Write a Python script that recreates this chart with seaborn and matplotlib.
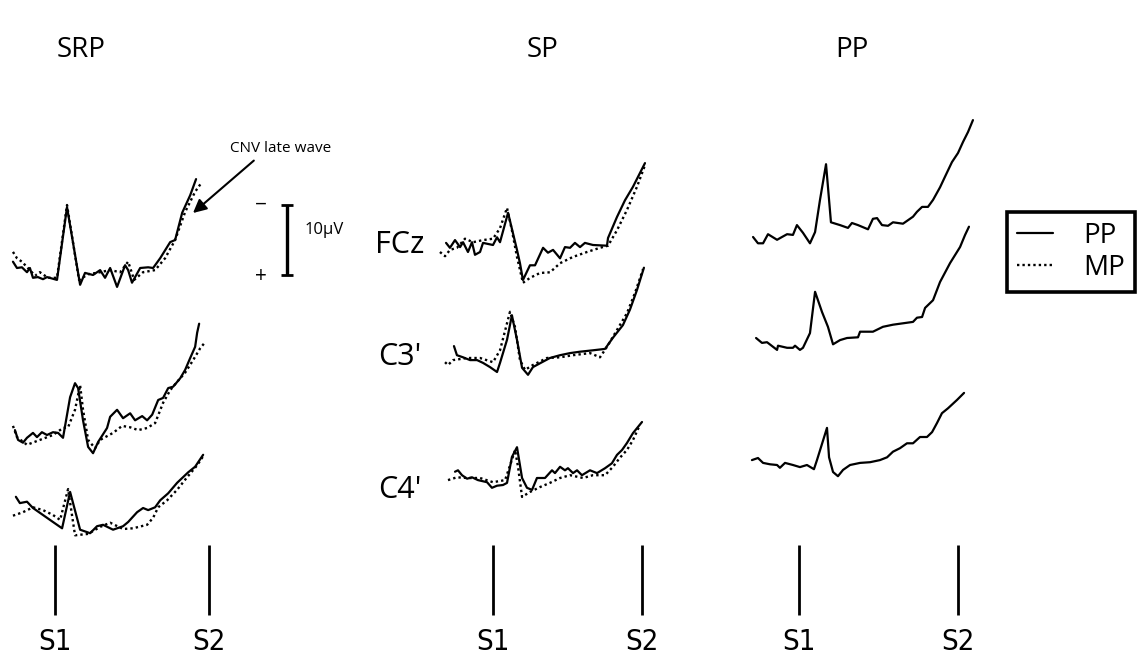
import numpy as np
import matplotlib
matplotlib.use('Agg')
import matplotlib.pyplot as plt
import seaborn as sns

# time in ms (S1 = 0, S2 = 1000), amplitude in microvolts (negative plotted up)

# --- SRP panel ---
srp_fcz_pp_t = [-273, -247, -215, -182, -163, -143, -111, -78, -52, 13, 78, 163, 195, 247, 293, 325, 358, 403,
                455, 475, 500, 553, 605, 637, 683, 748, 780, 826, 878, 916]
srp_fcz_pp_uv = [-1.9, -1.0, -1.1, -0.4, -1.0, 0.4, 0.3, 0.6, 0.3, 0.7, -9.7, 1.4, -0.3, 0.0, -0.7, 0.4, -1.0, 1.7,
                 -1.4, -0.7, 1.1, -1.0, -1.1, -1.0, -2.4, -4.7, -5.0, -8.9, -11.4, -13.7]
srp_fcz_mp_t = [-273, -247, -215, -163, -130, -98, -46, 13, 78, 156, 215, 293, 358, 423, 475, 514, 572, 650,
                715, 780, 845, 910, 955]
srp_fcz_mp_uv = [-3.3, -2.4, -1.9, -0.7, 0.1, -0.4, 0.4, 0.4, -10.0, 0.7, -0.1, -0.4, -0.7, -0.4, -1.9, 0.7, -0.4,
                 -0.7, -2.4, -5.0, -9.0, -11.9, -13.3]

srp_c3_pp_t = [-260, -240, -208, -182, -143, -117, -85, -52, -13, 20, 52, 98, 130, 150, 182, 215, 247, 280, 338,
               358, 403, 442, 488, 520, 566, 598, 631, 670, 702, 735, 767, 813, 845, 878, 910, 923, 936]
srp_c3_pp_uv = [-0.7, 0.7, 1.1, 0.4, -0.3, 0.3, -0.4, 0.0, -0.4, -0.3, 0.4, -5.4, -7.4, -6.7, -2.1, 1.7, 2.6, 1.0,
                -1.0, -2.6, -3.6, -2.4, -3.1, -2.1, -2.7, -2.1, -2.9, -5.0, -5.3, -6.7, -6.9, -8.1, -9.3, -11.0,
                -12.6, -14.6, -15.9]
srp_c3_mp_t = [-273, -247, -182, -98, -13, 52, 85, 130, 163, 182, 215, 260, 293, 377, 436, 488, 540, 598, 650,
               702, 748, 793, 845, 897, 943, 969]
srp_c3_mp_uv = [-1.3, 0.3, 1.4, 0.7, 0.0, -1.0, -1.1, -3.6, -7.1, -3.6, 0.7, 1.9, 0.7, -0.3, -1.3, -1.1, -0.7,
                -1.0, -1.7, -4.6, -6.4, -7.6, -8.9, -10.7, -12.4, -13.1]

srp_c4_pp_t = [-254, -228, -182, -143, -78, -13, 46, 98, 163, 228, 273, 312, 377, 442, 475, 533, 572, 605, 650,
               683, 735, 793, 865, 910, 962]
srp_c4_pp_uv = [-2.6, -1.7, -1.9, -1.0, 0.0, 1.0, 1.9, -3.3, 2.1, 2.6, 1.6, 1.4, 2.1, 1.6, 1.0, -0.4, -1.0, -0.7,
                -1.1, -2.1, -3.1, -4.6, -6.1, -6.9, -8.6]
srp_c4_mp_t = [-273, -208, -143, -78, -13, 33, 85, 130, 215, 293, 358, 442, 507, 598, 637, 670, 728, 793, 858,
               923, 962]
srp_c4_mp_uv = [0.1, -0.4, -1.1, -0.7, 0.0, 0.7, -3.7, 2.9, 2.7, 1.7, 1.1, 2.0, 1.9, 1.4, 0.4, -1.1, -2.1, -3.6,
                -5.4, -7.1, -8.4]

# --- SP panel ---
sp_fcz_pp_t = [-315, -289, -255, -221, -201, -168, -141, -121, -87, -67, 0, 27, 47, 101, 161, 181, 201, 248, 282,
               336, 369, 403, 450, 483, 517, 550, 584, 617, 671, 765, 772, 832, 886, 939, 1020]
sp_fcz_pp_uv = [-0.3, 0.4, -0.7, 0.3, -0.4, 1.0, -0.4, 1.4, 1.0, -0.3, 0.0, -1.1, -0.4, -4.6, 0.7, 2.6, 5.0, 2.9,
                2.9, 0.4, 1.1, 0.7, 1.9, 0.3, 0.4, -0.3, 0.3, -0.3, 0.0, 0.1, -1.0, -4.0, -6.4, -8.3, -11.7]
sp_fcz_mp_t = [-356, -322, -289, -242, -188, -134, -67, 0, 47, 94, 127, 161, 201, 248, 315, 383, 450, 537, 631,
               718, 772, 832, 899, 966, 1020]
sp_fcz_mp_uv = [1.0, 1.6, 0.7, 0.4, -0.9, -0.4, -0.7, -0.9, -2.4, -5.3, -2.1, 1.7, 5.4, 4.7, 4.0, 3.9, 2.6, 1.7,
                1.0, 0.4, 0.1, -2.1, -5.0, -8.3, -11.4]

sp_c3_pp_t = [-262, -242, -201, -154, -107, -67, -20, 27, 47, 94, 127, 161, 195, 235, 268, 329, 382, 450, 517,
              584, 671, 752, 805, 872, 919, 966, 1013]
sp_c3_pp_uv = [-1.7, -0.4, -0.1, 0.3, 0.3, 0.7, 1.3, 2.0, 0.7, -2.6, -6.1, -2.6, 1.4, 2.4, 1.3, 0.6, 0.0, -0.4,
               -0.7, -0.9, -1.1, -1.3, -2.9, -4.7, -6.9, -9.7, -12.9]
sp_c3_mp_t = [-322, -302, -268, -174, -87, 0, 47, 114, 148, 181, 215, 268, 362, 450, 537, 651, 718, 765, 832,
              899, 953, 1007]
sp_c3_mp_uv = [0.6, 1.0, 0.3, 0.0, 0.0, 0.6, -1.1, -6.6, -4.4, 0.3, 1.7, 1.0, 0.0, -0.1, -0.4, -0.7, -0.1, -1.6,
               -4.0, -6.4, -9.3, -12.7]

sp_c4_pp_t = [-255, -235, -208, -174, -141, -101, -40, -7, 27, 67, 94, 127, 161, 195, 228, 262, 295, 349, 396,
              416, 450, 483, 503, 537, 564, 597, 651, 698, 752, 798, 832, 866, 899, 939, 1000]
sp_c4_pp_uv = [-0.9, -1.1, -0.4, 0.1, -0.1, 0.3, 0.6, 1.4, 1.1, 1.0, 0.7, -3.0, -4.4, 0.0, 1.4, 1.7, 0.0, 0.0,
               -1.1, -0.7, -1.6, -1.1, -1.4, -0.7, -1.1, -0.4, -1.1, -0.7, -1.4, -2.1, -3.3, -4.0, -5.0, -6.4, -8.0]
sp_c4_mp_t = [-302, -242, -174, -87, 0, 81, 127, 148, 168, 195, 248, 315, 382, 450, 517, 604, 671, 752, 805,
              852, 899, 939, 986]
sp_c4_mp_uv = [0.3, -0.1, 0.0, 0.0, 0.6, 0.3, -2.6, -4.0, -1.6, 2.7, 2.0, 1.3, 0.7, 0.0, -0.4, 0.0, -0.4, -0.4,
               -1.6, -2.9, -4.0, -5.4, -7.6]

# --- PP panel (PP condition only) ---
pp_fcz_t = [-289, -258, -226, -195, -138, -107, -75, -38, -13, 25, 69, 101, 132, 170, 201, 258, 308, 333, 371,
            434, 465, 491, 522, 560, 591, 654, 717, 742, 774, 811, 843, 887, 918, 962, 1000, 1032, 1063, 1094]
pp_fcz_uv = [0.0, 0.9, 0.9, -0.4, 0.4, 0.0, -0.4, -0.3, -1.7, -0.6, 0.9, -0.7, -5.3, -10.4, -2.1, -1.7, -1.3,
             -2.0, -1.7, -1.1, -2.6, -2.7, -1.7, -1.6, -2.1, -1.9, -2.9, -3.6, -4.3, -4.3, -5.3, -7.1, -8.6, -10.7,
             -12.0, -13.6, -15.0, -16.7]
pp_c3_t = [-270, -233, -201, -138, -132, -75, -38, -25, 6, 25, 69, 101, 145, 182, 214, 258, 302, 371, 384, 465,
           528, 591, 654, 717, 742, 774, 793, 843, 887, 950, 1013, 1044, 1069]
pp_c3_uv = [-1.0, -0.3, -0.4, 0.7, 0.1, 0.4, 0.4, 0.1, 0.7, 0.4, -1.7, -7.6, -4.7, -2.6, -0.1, -0.7, -1.0, -1.1,
            -1.9, -1.9, -2.6, -2.9, -3.1, -3.3, -3.9, -4.0, -5.3, -6.4, -9.0, -11.7, -14.0, -15.7, -16.9]
pp_c4_t = [-296, -258, -226, -182, -138, -120, -88, -38, 6, 50, 94, 113, 176, 189, 214, 245, 277, 321, 384, 447,
           509, 554, 591, 635, 679, 717, 761, 805, 837, 868, 899, 937, 994, 1038]
pp_c4_uv = [-0.7, -1.0, -0.3, -0.1, 0.0, 0.4, -0.3, 0.0, 0.3, 0.0, 0.6, -0.7, -5.3, -1.1, 1.0, 1.6, 0.7, 0.0,
            -0.3, -0.4, -0.7, -1.1, -1.9, -2.4, -3.1, -3.1, -4.0, -4.0, -4.7, -6.0, -7.4, -8.1, -9.3, -10.3]

channels = ['FCz', "C3'", "C4'"]
conditions = ['PP', 'MP']

# --- layout (pixels) ---
W, H = 1137, 662
PX_PER_UV = 7.0

sns.set_style('white')
plt.rcParams['font.family'] = ['Open Sans', 'DejaVu Sans']
plt.rcParams['text.color'] = 'black'

fig = plt.figure(figsize=(W / 100, H / 100), dpi=100)

panels = [
    dict(title='SRP', title_x=81, s1=55, s2=209, x0=0, x1=360, rows=[275, 435, 515],
         pp=[(srp_fcz_pp_t, srp_fcz_pp_uv), (srp_c3_pp_t, srp_c3_pp_uv), (srp_c4_pp_t, srp_c4_pp_uv)],
         mp=[(srp_fcz_mp_t, srp_fcz_mp_uv), (srp_c3_mp_t, srp_c3_mp_uv), (srp_c4_mp_t, srp_c4_mp_uv)]),
    dict(title='SP', title_x=542, s1=493, s2=642, x0=360, x1=700, rows=[245, 358, 478],
         pp=[(sp_fcz_pp_t, sp_fcz_pp_uv), (sp_c3_pp_t, sp_c3_pp_uv), (sp_c4_pp_t, sp_c4_pp_uv)],
         mp=[(sp_fcz_mp_t, sp_fcz_mp_uv), (sp_c3_mp_t, sp_c3_mp_uv), (sp_c4_mp_t, sp_c4_mp_uv)]),
    dict(title='PP', title_x=852, s1=799, s2=958, x0=700, x1=1000, rows=[237, 345, 465],
         pp=[(pp_fcz_t, pp_fcz_uv), (pp_c3_t, pp_c3_uv), (pp_c4_t, pp_c4_uv)],
         mp=None),
]

solid = dict(color='black', lw=1.6, linestyle='-')
dotted = dict(color='black', lw=1.7, linestyle=(0, (1, 1.3)))

axes = []
for p in panels:
    k = 1000.0 / (p['s2'] - p['s1'])
    ax = fig.add_axes([p['x0'] / W, 0, (p['x1'] - p['x0']) / W, 1])
    ax.set_xlim((p['x0'] - p['s1']) * k, (p['x1'] - p['s1']) * k)
    ax.set_ylim(H / PX_PER_UV, 0)
    ax.axis('off')
    for i, base in enumerate(p['rows']):
        off = base / PX_PER_UV
        if p['mp'] is not None:
            t, uv = p['mp'][i]
            sns.lineplot(x=t, y=np.array(uv) + off, ax=ax, estimator=None, sort=False, legend=False, **dotted)
        t, uv = p['pp'][i]
        sns.lineplot(x=t, y=np.array(uv) + off, ax=ax, estimator=None, sort=False, legend=False, **solid)
    # S1 / S2 markers
    ax.vlines([0, 1000], 545 / PX_PER_UV, 615 / PX_PER_UV, color='black', lw=2)
    for xs, lab in zip([0, 1000], ['S1', 'S2']):
        ax.text(xs, 642 / PX_PER_UV, lab, ha='center', va='center', fontsize=21,
                family='DejaVu Sans', fontstretch='condensed')
    fig.text(p['title_x'] / W, 1 - 50 / H, p['title'], ha='center', va='center', fontsize=20)
    p['k'] = k
    axes.append(ax)

# channel labels in the SP panel
sp = panels[1]
for lab, ly in zip(channels, [245, 357, 490]):
    axes[1].text((400 - sp['s1']) * sp['k'], ly / PX_PER_UV, lab, ha='center', va='center', fontsize=22)

# 10 microvolt scale bar next to SRP FCz
srp = panels[0]
ax = axes[0]
bx = (287 - srp['s1']) * srp['k']
cap = 6 * srp['k']
b0 = srp['rows'][0] / PX_PER_UV
ax.vlines(bx, b0 - 10, b0, color='black', lw=2.4)
ax.hlines([b0 - 10, b0], bx - cap, bx + cap, color='black', lw=2)
ax.text(bx - 26 * srp['k'], b0 - 10, '\u2212', ha='center', va='center', fontsize=15)
ax.text(bx - 26 * srp['k'], b0 + 0.2, '+', ha='center', va='center', fontsize=15)
ax.text(bx + 18 * srp['k'], b0 - 6.4, '10\u00b5V', ha='left', va='center', fontsize=12)

# CNV late wave arrow
ax.annotate('CNV late wave', xy=(193, H - 213), xycoords='figure pixels',
            xytext=(281, H - 148), textcoords='figure pixels', ha='center', va='center', fontsize=11,
            arrowprops=dict(arrowstyle='-|>', color='black', lw=1.5, mutation_scale=20,
                            shrinkA=2, shrinkB=0, relpos=(0.29, 0)))

# legend
h_pp = axes[0].lines[1]
h_mp = axes[0].lines[0]
leg = fig.legend([h_pp, h_mp], conditions, loc='upper left',
                 bbox_to_anchor=(1007 / W, 1 - 212 / H), bbox_transform=fig.transFigure,
                 fontsize=20, frameon=True, fancybox=False, edgecolor='black', framealpha=1,
                 borderpad=0.35, handlelength=1.3, handletextpad=1.1, labelspacing=0.15, borderaxespad=0)
leg.get_frame().set_linewidth(2.6)

fig.savefig('out.png', dpi=100, facecolor='white')
